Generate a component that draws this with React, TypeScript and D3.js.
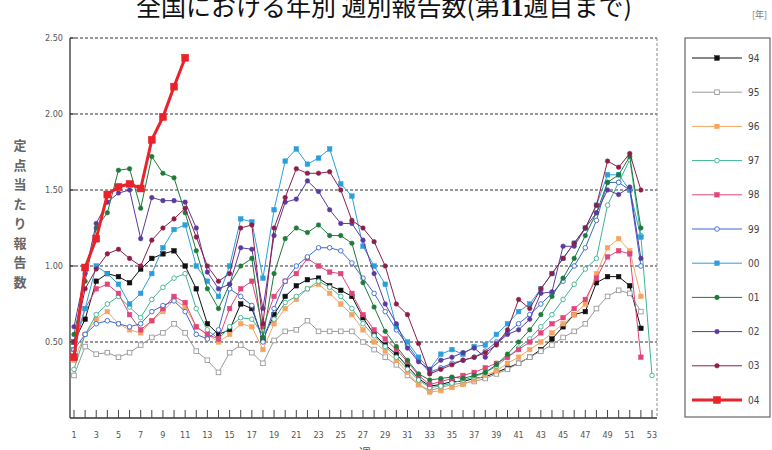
import React from "react";
import * as d3 from "d3";

const weeks = d3.range(1, 54);
const yTicks = [0.5, 1.0, 1.5, 2.0, 2.5];
const xTickWeeks = d3.range(1, 54, 2);

const s94 = [0.50,0.65,0.90,0.95,0.93,0.89,0.98,1.05,1.08,1.10,1.00,0.85,0.62,0.55,0.58,0.75,0.72,0.52,0.68,0.80,0.87,0.91,0.92,0.87,0.84,0.80,0.66,0.55,0.48,0.42,0.34,0.26,0.21,0.22,0.24,0.24,0.26,0.27,0.30,0.33,0.36,0.40,0.45,0.52,0.60,0.68,0.70,0.89,0.93,0.93,0.87,0.59];
const s95 = [0.28,0.47,0.42,0.43,0.40,0.43,0.48,0.53,0.56,0.62,0.56,0.44,0.38,0.30,0.43,0.48,0.43,0.36,0.51,0.57,0.58,0.64,0.57,0.57,0.57,0.57,0.50,0.45,0.40,0.35,0.28,0.22,0.18,0.20,0.22,0.23,0.24,0.26,0.29,0.32,0.36,0.40,0.44,0.48,0.53,0.57,0.62,0.72,0.80,0.84,0.82,0.70];
const s96 = [0.38,0.55,0.65,0.70,0.62,0.58,0.56,0.64,0.70,0.78,0.73,0.60,0.55,0.50,0.55,0.62,0.60,0.45,0.62,0.72,0.78,0.85,0.88,0.82,0.75,0.68,0.58,0.50,0.44,0.38,0.30,0.22,0.17,0.18,0.20,0.22,0.25,0.28,0.31,0.36,0.40,0.45,0.50,0.56,0.62,0.68,0.75,0.95,1.12,1.18,1.10,0.80];
const s97 = [0.32,0.55,0.68,0.75,0.80,0.73,0.66,0.78,0.86,0.92,0.95,0.72,0.58,0.52,0.60,0.66,0.65,0.55,0.65,0.76,0.80,0.85,0.90,0.86,0.80,0.72,0.62,0.54,0.47,0.40,0.32,0.25,0.20,0.21,0.23,0.25,0.27,0.30,0.34,0.40,0.46,0.52,0.60,0.68,0.78,0.88,0.98,1.05,1.40,1.55,1.70,1.20,0.28];
const s98 = [0.45,0.72,0.85,0.88,0.82,0.68,0.58,0.64,0.72,0.80,0.76,0.60,0.55,0.52,0.72,0.85,0.90,0.60,0.80,0.90,0.95,1.05,1.00,0.96,0.95,0.82,0.68,0.58,0.52,0.45,0.37,0.28,0.22,0.24,0.26,0.28,0.30,0.33,0.36,0.40,0.45,0.50,0.56,0.62,0.66,0.72,0.78,0.92,1.06,1.10,1.08,0.40];
const s99 = [0.45,0.55,0.62,0.64,0.62,0.60,0.62,0.70,0.74,0.77,0.70,0.55,0.52,0.58,0.85,0.80,0.74,0.50,0.72,0.90,1.00,1.06,1.12,1.12,1.10,1.02,0.92,0.82,0.70,0.58,0.48,0.38,0.30,0.33,0.36,0.38,0.40,0.44,0.50,0.56,0.62,0.68,0.75,0.82,0.90,1.00,1.12,1.30,1.55,1.55,1.50,1.00];
const s00 = [0.50,0.72,1.00,0.95,0.88,0.75,0.82,0.95,1.12,1.24,1.27,1.00,0.90,0.80,1.00,1.31,1.29,0.92,1.37,1.69,1.77,1.67,1.71,1.77,1.54,1.46,1.13,1.00,0.88,0.60,0.50,0.40,0.32,0.42,0.45,0.42,0.47,0.48,0.55,0.62,0.70,0.75,0.85,0.95,1.05,1.15,1.25,1.40,1.60,1.60,1.50,1.19];
const s01 = [0.55,0.90,1.25,1.35,1.63,1.64,1.38,1.72,1.61,1.58,1.35,1.10,0.85,0.72,0.88,1.00,1.05,0.53,0.95,1.18,1.25,1.22,1.27,1.20,1.20,1.15,0.89,0.73,0.57,0.47,0.38,0.29,0.25,0.26,0.27,0.26,0.28,0.30,0.35,0.42,0.50,0.58,0.68,0.80,0.92,1.05,1.20,1.35,1.55,1.60,1.72,1.25];
const s02 = [0.60,0.95,1.28,1.42,1.48,1.50,1.18,1.45,1.43,1.43,1.42,1.25,0.96,0.85,0.88,1.12,1.11,0.72,1.20,1.42,1.44,1.56,1.49,1.37,1.28,1.28,1.17,0.95,0.75,0.62,0.46,0.37,0.32,0.38,0.40,0.43,0.46,0.40,0.49,0.55,0.58,0.65,0.82,0.83,1.13,1.13,1.25,1.35,1.50,1.47,1.52,1.05];
const s03 = [0.50,0.85,0.98,1.08,1.11,1.05,1.00,1.17,1.25,1.31,1.38,1.19,1.00,0.90,0.95,1.25,1.27,0.62,1.25,1.45,1.64,1.61,1.61,1.62,1.50,1.30,1.25,1.16,1.00,0.75,0.68,0.49,0.29,0.32,0.35,0.38,0.40,0.43,0.48,0.58,0.78,0.72,0.85,0.95,1.05,1.15,1.25,1.40,1.69,1.65,1.74,1.50];
const s04 = [0.40,0.99,1.18,1.47,1.52,1.54,1.51,1.83,1.98,2.18,2.37];

const seriesNames = ["94", "95", "96", "97", "98", "99", "00", "01", "02", "03", "04"];
const seriesValues = [s94, s95, s96, s97, s98, s99, s00, s01, s02, s03, s04];
const seriesColors = ["#111111", "#9a9a9a", "#f5a561", "#3fb394", "#e0457c", "#3a68cf", "#2a9fdc", "#1f7a3b", "#5b3a9f", "#8c1f4a", "#e8232b"];
const seriesMarkers = ["square", "squareOpen", "square", "circleOpen", "square", "circleOpen", "square", "circle", "circle", "circle", "square"];

const W = 772;
const H = 450;
const x = d3.scaleLinear().domain([1, 53]).range([74, 652]);
const y = d3.scaleLinear().domain([0, 2.5]).range([418, 38]);
const plotL = 70, plotR = 657, plotT = 38, plotB = 418;

function Marker({ kind, cx, cy, color, big }: { kind: string; cx: number; cy: number; color: string; big?: boolean }) {
  const s = big ? 7 : 4.6;
  if (kind === "square") return <rect x={cx - s / 2} y={cy - s / 2} width={s} height={s} fill={color} stroke={color} strokeWidth={0.5} />;
  if (kind === "squareOpen") return <rect x={cx - s / 2} y={cy - s / 2} width={s} height={s} fill="#fff" stroke={color} strokeWidth={0.9} />;
  if (kind === "circleOpen") return <circle cx={cx} cy={cy} r={s / 2} fill="#fff" stroke={color} strokeWidth={0.9} />;
  return <circle cx={cx} cy={cy} r={s / 2} fill={color} stroke={color} strokeWidth={0.5} />;
}

export default function App() {
  const line = d3.line<number>().x((_, i) => x(weeks[i])).y((d) => y(d));
  const legendY = (i: number) => 58 + i * 34.2;
  const yLabel = "定点当たり報告数".split("");
  const tickFont = "'Liberation Sans Narrow', 'DejaVu Sans Condensed', sans-serif";
  return (
    <svg width={W} height={H} style={{ position: "absolute", left: 0, top: 0, background: "#fff" }}>
      <rect x={0} y={0} width={W} height={H} fill="#fff" />
      <text x={384} y={16} textAnchor="middle" fontSize={25} fontFamily="'Noto Sans CJK JP', sans-serif" fill="#111">
        全国における年別 週別報告数(第<tspan fontFamily="'Liberation Serif', serif" fontWeight="bold">11</tspan>週目まで)
      </text>
      <text x={752} y={18} fontSize={9} fill="#777" fontFamily="'Noto Sans CJK JP', sans-serif">[年]</text>

      {yTicks.map((t) => (
        <line key={t} x1={plotL} x2={plotR} y1={y(t)} y2={y(t)} stroke="#333" strokeWidth={1.2} strokeDasharray="3,2" />
      ))}
      <line x1={plotR} x2={plotR} y1={plotT} y2={plotB} stroke="#888" strokeWidth={1} strokeDasharray="3,2" />
      <line x1={plotL} x2={plotL} y1={plotT} y2={plotB} stroke="#333" strokeWidth={1.3} />
      <line x1={plotL} x2={plotR} y1={plotB} y2={plotB} stroke="#333" strokeWidth={1.3} />
      {weeks.map((w) => (
        <line key={w} x1={x(w)} x2={x(w)} y1={plotB} y2={plotB - 8} stroke="#444" strokeWidth={1} />
      ))}
      {yTicks.map((t) => (
        <g key={"yl" + t}>
          <line x1={plotL} x2={plotL + 5} y1={y(t)} y2={y(t)} stroke="#333" />
          <text x={63} y={y(t) + 3} textAnchor="end" fontSize={9} fill="#555" fontFamily={tickFont}>{t.toFixed(2)}</text>
        </g>
      ))}
      {xTickWeeks.map((w) => (
        <text key={"xl" + w} x={x(w)} y={438} textAnchor="middle" fontSize={9} fill="#555" fontFamily={tickFont}>{w}</text>
      ))}
      <text x={365} y={458} textAnchor="middle" fontSize={12} fill="#555" fontFamily="'Noto Sans CJK JP', sans-serif">週</text>
      {yLabel.map((c, i) => (
        <text key={"yc" + i} x={20} y={150 + i * 19.5} textAnchor="middle" fontSize={13} fontWeight="bold" fill="#666" fontFamily="'Noto Sans CJK JP', sans-serif">{c}</text>
      ))}

      {seriesValues.map((vals, si) => {
        const big = seriesNames[si] === "04";
        return (
          <g key={seriesNames[si]}>
            <path d={line(vals) || ""} fill="none" stroke={seriesColors[si]} strokeWidth={big ? 3 : 1} />
            {vals.map((v, i) => (
              <Marker key={i} kind={seriesMarkers[si]} cx={x(weeks[i])} cy={y(v)} color={seriesColors[si]} big={big} />
            ))}
          </g>
        );
      })}

      <rect x={685} y={38} width={85} height={379} fill="#fff" stroke="#666" strokeWidth={1.2} />
      {seriesNames.map((n, i) => {
        const big = n === "04";
        return (
          <g key={"lg" + n}>
            <line x1={692} x2={742} y1={legendY(i)} y2={legendY(i)} stroke={seriesColors[i]} strokeWidth={big ? 3 : 1} />
            <Marker kind={seriesMarkers[i]} cx={717} cy={legendY(i)} color={seriesColors[i]} big={big} />
            <text x={748} y={legendY(i) + 3.5} fontSize={10} fill="#444" fontFamily={tickFont}>{n}</text>
          </g>
        );
      })}
    </svg>
  );
}
